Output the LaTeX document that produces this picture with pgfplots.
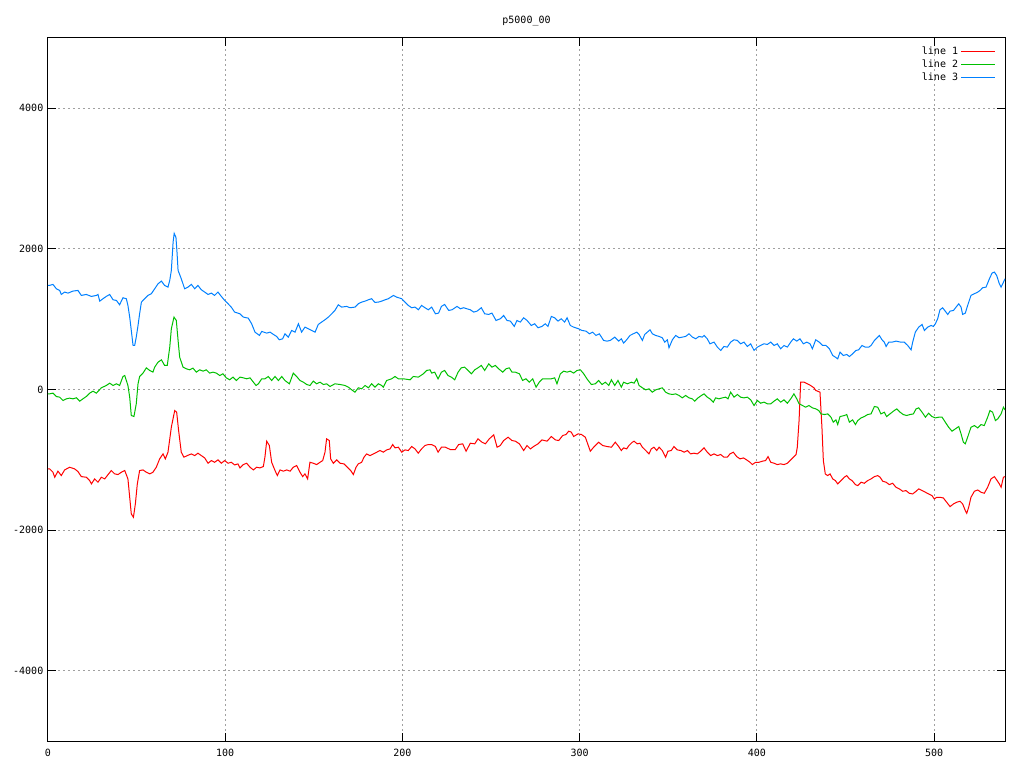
\documentclass[border=0pt]{standalone}
\usepackage{pgfplots}
\pgfplotsset{compat=1.18}
\usepackage{fontspec}
\setmainfont{DejaVu Sans Mono}
\definecolor{gpred}{RGB}{255,0,0}
\definecolor{gpgreen}{RGB}{0,192,0}
\definecolor{gpblue}{RGB}{0,128,255}
\definecolor{gpgrid}{RGB}{160,160,160}
\begin{document}
\begin{tikzpicture}
\useasboundingbox (-36pt,-20.25pt) rectangle (732pt,555.75pt);
\begin{axis}[
  at={(0,0)}, anchor=south west,
  scale only axis, width=717.75pt, height=527.25pt,
  xmin=0, xmax=540, ymin=-5000, ymax=5000,
  xtick={0,100,...,500}, ytick={-4000,-2000,0,2000,4000},
  scaled x ticks=false, scaled y ticks=false,
  /pgf/number format/1000 sep={},
  /pgf/number format/assume math mode=true,
  tick label style={font=\fontsize{7.5}{9}\selectfont},
  xticklabel style={yshift=-2.25pt},
  major tick length=6pt,
  tick style={black, line width=0.75pt},
  axis line style={black, line width=0.75pt},
  grid=major,
  major grid style={gpgrid, dash pattern=on 1.5pt off 2.25pt, line width=0.75pt},
  title={p5000\_00},
  title style={font=\fontsize{7.5}{9}\selectfont, at={(axis description cs:0.5,1)}, anchor=center, yshift=6.75pt},
  legend plot pos=right,
  legend cell align=right,
  legend style={draw=none, fill=none, at={(axis cs:535.3,4940)}, anchor=north east,
    font=\fontsize{7.5}{9}\selectfont, row sep=-1.5pt, inner sep=1pt},
  legend image code/.code={\draw[#1] (0pt,0pt) -- (25pt,0pt);},
  every axis plot/.append style={line width=0.75pt},
]
\addplot[gpred] coordinates {
(0,-1129) (0.9,-1129) (2.8,-1177) (3.8,-1248) (5.6,-1162) (7.5,-1224) (9.4,-1144) (12.2,-1106) (15.0,-1129) (16.9,-1167) (18.8,-1239) (21.6,-1248) (23.5,-1295) (24.5,-1343) (26.3,-1272) (28.2,-1319) (30.1,-1248) (32.0,-1272) (33.9,-1210) (35.7,-1153) (37.6,-1200) (39.5,-1210) (41.4,-1177) (43.3,-1153) (45.1,-1272) (46.1,-1533) (47.0,-1770) (48.2,-1817) (49.3,-1627) (50.4,-1343) (51.7,-1153) (53.6,-1144) (55.5,-1177) (57.4,-1200) (59.2,-1177) (61.1,-1106) (63.0,-987) (64.9,-916) (66.2,-987) (67.7,-892) (69.6,-536) (71.5,-299) (72.6,-323) (73.7,-584) (75.2,-892) (76.7,-963) (78.6,-940) (80.9,-916) (82.8,-940) (84.6,-906) (86.5,-940) (88.4,-973) (90.3,-1049) (92.2,-1011) (94.0,-1035) (95.9,-1001) (97.8,-1049) (99.7,-1011) (101.6,-1049) (103.4,-1035) (105.3,-1073) (107.2,-1058)
(108.3,-1115) (110.2,-1068) (112.1,-1049) (114.0,-1106) (115.9,-1144) (117.7,-1106) (119.6,-1115) (121.5,-1096) (122.4,-963) (123.4,-735) (124.9,-797) (126.2,-1035) (128.1,-1153) (129.4,-1224) (130.9,-1144) (132.8,-1162) (134.7,-1144) (136.6,-1162) (138.4,-1106) (140.3,-1082) (142.2,-1177) (143.7,-1239) (145.0,-1200) (146.5,-1272) (147.8,-1035) (149.7,-1049) (151.6,-1068) (153.5,-1035) (155.0,-1011) (156.3,-892) (157.2,-702) (158.7,-726) (159.5,-987) (161.0,-1049) (162.9,-1001) (164.8,-1049) (167.0,-1058) (168.9,-1106) (170.8,-1153) (172.3,-1210) (173.8,-1106) (175.1,-1058) (177.0,-1035) (178.3,-963) (179.8,-916) (181.7,-940) (183.6,-916) (185.5,-892) (187.3,-868) (189.2,-892) (191.1,-859) (193.0,-845) (194.5,-783) (195.8,-830) (197.7,-821) (199.6,-892) (201.4,-859) (203.3,-868) (205.2,-811) (207.1,-845) (208.9,-906) (210.8,-845) (212.7,-797) (214.6,-783) (216.5,-783)
(218.6,-811) (220.1,-892) (222.0,-821) (224.2,-821) (227.0,-854) (229.8,-854) (231.7,-783) (234.0,-773) (235.9,-878) (238.3,-764) (240.8,-773) (242.6,-702) (244.9,-750) (246.8,-773) (249.0,-702) (251.5,-645) (253.4,-821) (255.2,-797) (257.1,-726) (259.6,-679) (261.8,-726) (263.7,-735) (266.0,-773) (268.4,-868) (270.3,-797) (272.2,-845) (274.0,-811) (276.5,-773) (278.7,-717) (281.6,-735) (284.0,-669) (286.3,-717) (288.2,-726) (290.4,-655) (292.3,-640) (293.8,-593) (295.3,-607) (296.6,-669) (299.1,-631) (301.0,-640) (303.2,-679) (306.0,-878) (307.9,-821) (310.7,-750) (313.0,-797) (315.4,-811) (317.9,-821) (320.1,-750) (322.0,-811) (323.5,-868) (324.8,-830)
(326.5,-845) (327.8,-797) (329.7,-750) (330.7,-736) (332.5,-773) (334.0,-764) (335.4,-821) (337.3,-868) (339.1,-916) (340.4,-845) (341.9,-821) (343.5,-868) (344.8,-821) (346.6,-868) (348.5,-963) (349.8,-878) (351.7,-868) (353.2,-811) (355.1,-859) (357.0,-868) (358.9,-892) (360.8,-868) (362.6,-916) (364.5,-906) (366.4,-916) (368.3,-878) (370.2,-830) (372.0,-892) (373.9,-940) (375.8,-916) (377.7,-940) (379.6,-925) (381.4,-963) (383.3,-963) (384.8,-916) (386.7,-892) (388.6,-954) (390.5,-987) (392.4,-973) (394.2,-1001) (396.1,-1035) (397.4,-1068) (399.3,-1035) (401.2,-1035) (403.1,-1020) (404.9,-1011) (406.3,-954) (407.8,-1035) (409.7,-1049) (411.5,-1068) (413.4,-1058) (415.3,-1068) (417.2,-1049) (419.1,-1001) (420.6,-963) (422.1,-925) (422.8,-821) (423.8,-441) (424.7,104) (426.6,104) (428.5,81) (430.3,57) (432.2,24) (433.2,-14)
(434.3,-24) (435.6,-38) (436.7,-537) (437.5,-1011) (438.6,-1201) (439.9,-1225) (441.3,-1201) (442.8,-1272) (444.3,-1296) (445.6,-1343) (447.5,-1296) (449.3,-1248) (450.7,-1225) (452.2,-1272) (453.7,-1296) (455.6,-1353) (456.9,-1367) (458.8,-1319) (460.6,-1334) (462.5,-1296) (464.4,-1272) (466.3,-1239) (468.2,-1225) (469.5,-1248) (471.0,-1305) (472.9,-1319) (474.7,-1353) (476.6,-1334) (478.5,-1391) (480.4,-1414) (482.3,-1448) (484.1,-1438) (486.0,-1476) (487.9,-1486) (489.8,-1448) (491.3,-1414) (493.2,-1438) (495.1,-1462) (496.9,-1486) (498.8,-1509) (500.1,-1557) (501.5,-1533) (503.3,-1533) (505.2,-1543) (507.1,-1604) (509.0,-1666) (510.9,-1628) (512.7,-1604) (514.6,-1590) (516.1,-1628) (517.6,-1723) (518.4,-1761) (519.5,-1675) (520.8,-1533) (522.7,-1448) (524.6,-1429) (526.5,-1462) (528.3,-1476) (530.2,-1391) (532.1,-1272) (534.0,-1239) (535.3,-1286) (536.8,-1343) (537.8,-1391) (539.1,-1248) (540,-1239)
};
\addlegendentry{line 1}
\addplot[gpgreen] coordinates {
(0,-62) (0.9,-62) (2.8,-52) (4.7,-100) (6.6,-109) (8.5,-157) (10.3,-133) (12.2,-123) (14.1,-133) (16.0,-118) (17.9,-166) (19.7,-133) (21.6,-100) (23.5,-52) (25.4,-24) (27.3,-52) (30.1,24) (32.9,57) (34.8,90) (36.7,57) (38.6,81) (40.4,57) (42.3,185) (43.3,199) (45.1,57) (46.1,-109) (47.0,-370) (48.5,-384) (49.8,-204) (50.8,81) (51.7,185) (53.6,233) (55.5,308) (57.4,270) (59.2,247) (60.2,318) (62.1,389) (64.0,422) (65.8,342) (67.3,342) (68.7,603) (69.6,864) (71.1,1030) (72.4,982) (73.4,698) (74.3,460) (76.2,318) (78.1,294) (79.9,280) (81.8,304) (83.7,247) (85.6,280) (87.5,261) (89.3,280) (91.2,233) (93.1,247) (95.0,233) (96.9,199) (98.7,223) (100.6,166) (102.5,138) (104.4,176) (106.3,128)
(108.3,176) (110.2,166) (112.1,152) (114.0,166) (115.9,104) (117.4,57) (118.7,81) (120.6,152) (122.4,152) (124.3,185) (126.2,128) (128.1,185) (130.0,128) (131.9,185) (133.7,128) (136.2,81) (138.4,233) (140.3,185) (142.2,128) (144.1,104) (146.0,71) (147.8,57) (149.7,119) (151.6,81) (153.5,104) (155.4,71) (157.2,81) (159.1,43) (161.9,81) (164.8,71) (167.6,57) (169.5,33) (171.4,-5) (173.2,-38) (175.1,24) (177.0,10) (178.9,57) (180.8,24) (182.6,81) (184.5,33) (186.4,81) (188.3,57) (189.2,33) (191.1,128) (193.9,152) (195.8,185) (197.7,152) (200.5,152) (204.3,138) (206.1,185) (209.0,176) (211.8,223) (213.7,271) (215.6,280) (216.5,233)
(218.2,247) (220.1,152) (222.0,247) (223.8,271) (225.7,199) (227.6,176) (229.5,138) (231.4,247) (233.2,308) (235.1,318) (237.0,271) (238.9,223) (240.8,280) (242.6,308) (244.5,342) (246.4,271) (248.7,365) (250.5,318) (252.4,342) (254.3,294) (256.6,247) (258.4,294) (260.3,308) (261.8,247) (263.7,247) (266.0,223) (267.8,128) (269.7,152) (271.6,104) (273.5,152) (275.4,33) (277.2,104) (279.1,152) (281.6,152) (284.0,152) (285.9,166) (287.2,81) (289.1,223) (291.0,261) (292.9,247) (294.7,261) (296.6,233) (298.5,271) (300.4,280) (302.3,223) (304.1,152) (306.6,71) (308.8,81) (310.7,128) (312.6,71) (314.5,104) (316.4,57) (317.9,138) (319.8,57) (321.6,128) (323.5,33) (324.8,104)
(326.9,81) (329.2,104) (330.7,90) (332.2,152) (333.5,57) (335.4,24) (337.3,-5) (339.1,10) (341.0,-38) (342.9,-5) (344.8,10) (346.6,24) (348.5,-38) (350.4,-62) (352.3,-71) (354.2,-62) (356.1,-85) (357.9,-119) (359.8,-85) (361.7,-119) (363.6,-133) (364.9,-166) (366.8,-119) (368.7,-85) (370.2,-62) (372.0,-109) (373.5,-133) (375.4,-180) (376.7,-119) (378.6,-133) (380.5,-119) (382.4,-109) (383.7,-133) (385.2,-38) (387.1,-109) (389.0,-71) (390.8,-109) (392.7,-119) (394.6,-109) (396.5,-147) (398.4,-228) (400.3,-156) (402.1,-195) (404.0,-180) (405.9,-204) (407.8,-204) (409.7,-166) (411.5,-133) (413.4,-180) (415.3,-147) (417.2,-195) (419.1,-133) (420.9,-62) (422.5,-133) (423.8,-204) (425.7,-228) (427.5,-251) (429.4,-228) (431.3,-261) (433.2,-275)
(434.9,-299) (436.2,-347) (438.1,-356) (440.0,-347) (441.8,-394) (443.1,-465) (444.6,-432) (445.6,-499) (446.9,-385) (449.4,-370) (450.7,-356) (452.2,-465) (454.0,-432) (455.6,-499) (456.9,-442) (458.8,-404) (460.6,-385) (462.5,-356) (464.4,-347) (466.3,-242) (468.2,-252) (470.0,-347) (471.9,-323) (473.2,-385) (475.1,-347) (477.0,-309) (478.9,-276) (480.8,-323) (482.6,-356) (484.5,-370) (486.4,-356) (488.3,-347) (489.8,-276) (491.3,-261) (493.2,-323) (495.1,-394) (496.9,-337) (498.8,-385) (500.7,-404) (502.6,-394) (504.5,-394) (506.3,-465) (508.2,-537) (510.1,-593) (512.0,-560) (513.9,-527) (515.2,-631) (516.5,-750) (517.6,-773) (518.9,-679) (520.8,-537) (522.7,-513) (524.6,-546) (526.5,-499) (528.3,-513) (530.2,-394) (531.5,-299) (533.0,-323) (534.6,-442) (535.9,-418) (537.8,-347) (539.1,-252) (540,-290)
};
\addlegendentry{line 2}
\addplot[gpblue] coordinates {
(0,1481) (0.9,1481) (2.8,1495) (4.7,1433) (6.6,1409) (7.5,1352) (9.4,1386) (11.3,1371) (14.1,1400) (16.9,1409) (18.8,1338) (21.6,1352) (24.5,1324) (27.3,1338) (28.2,1352) (29.2,1257) (31.0,1291) (32.9,1324) (34.8,1352) (36.7,1276) (38.6,1267) (40.4,1205) (42.3,1305) (44.2,1291) (45.1,1196) (46.1,1030) (47.0,840) (48.0,626) (48.9,626) (49.8,745) (50.8,911) (51.7,1077) (52.7,1243) (54.5,1291) (56.4,1338) (58.3,1362) (60.2,1433) (62.1,1504) (64.0,1542) (65.8,1480) (67.7,1457) (68.7,1552) (69.6,1694) (70.6,2100) (71.2,2221) (72.2,2164) (72.8,1950) (73.4,1694) (75.2,1575) (77.1,1433) (79.0,1457) (80.9,1495) (82.8,1433) (84.6,1480) (86.5,1419) (88.4,1386) (90.3,1352) (92.2,1371) (94.0,1338) (95.9,1386) (97.8,1324) (99.7,1267) (101.6,1220) (103.4,1172) (105.3,1101)
(108.3,1077) (110.2,1030) (113.0,1015) (114.9,935) (116.8,816) (119.3,769) (120.6,826) (123.4,802) (125.3,816) (127.2,783) (129.0,755) (130.5,707) (132.4,721) (133.7,792) (135.6,745) (137.5,840) (139.4,816) (141.3,935) (143.1,816) (145.0,887) (146.9,864) (148.8,840) (150.7,816) (152.5,925) (154.4,959) (156.3,992) (158.2,1030) (160.1,1077) (161.9,1125) (163.8,1205) (165.7,1172) (168.5,1182) (170.4,1163) (173.2,1172) (175.1,1220) (177.0,1243) (178.9,1257) (180.8,1276) (182.6,1291) (184.5,1239) (186.4,1243) (188.3,1257) (190.2,1276) (192.0,1291) (194.9,1338) (196.7,1314) (199.6,1291) (201.4,1243) (203.3,1196) (205.2,1163) (207.1,1172) (209.0,1134) (210.8,1196) (212.7,1163) (214.6,1134) (216.5,1172)
(218.6,1077) (220.4,1087) (222.0,1182) (223.8,1210) (226.1,1125) (228.0,1134) (230.8,1182) (232.7,1148) (234.5,1163) (236.4,1148) (238.3,1134) (240.2,1101) (242.1,1115) (244.5,1163) (246.4,1077) (248.7,1068) (250.5,1087) (252.8,982) (255.2,1006) (257.1,1053) (259.0,982) (260.9,973) (263.1,897) (264.6,982) (266.5,959) (268.4,1020) (270.3,982) (272.7,911) (274.6,935) (276.5,878) (278.7,897) (280.6,935) (282.1,897) (284.0,1039) (285.9,1020) (287.8,973) (289.6,1006) (291.5,959) (292.9,1020) (294.7,911) (296.6,887) (299.4,864) (301.3,840) (303.6,830) (305.5,792) (307.3,816) (309.2,769) (311.1,792) (313.5,698) (315.4,688) (317.3,698) (319.8,745) (322.0,688) (323.5,721) (324.8,660)
(326.5,707) (328.4,769) (330.3,793) (332.2,816) (333.5,783) (335.4,698) (336.7,783) (338.2,816) (339.7,849) (341.0,793) (342.9,769) (344.8,755) (346.6,736) (348.0,674) (349.5,707) (350.4,593) (352.3,707) (354.2,769) (356.1,736) (357.9,745) (359.8,755) (361.7,793) (363.6,745) (365.5,721) (367.3,755) (369.2,745) (370.2,769) (372.0,721) (373.5,650) (375.8,674) (377.7,603) (379.6,555) (381.4,612) (383.3,603) (385.2,674) (387.1,707) (389.0,698) (390.8,650) (392.7,674) (394.6,612) (396.5,650) (398.4,555) (400.3,603) (402.1,626) (404.0,650) (405.9,641) (407.8,674) (409.7,626) (411.5,650) (413.4,579) (415.3,626) (417.2,603) (419.1,674) (420.6,721) (422.5,688) (424.3,721) (426.2,650) (428.1,674) (430.0,650) (431.3,579) (433.2,707)
(435.2,673) (437.1,626) (439.0,626) (440.9,579) (442.8,484) (444.3,460) (445.6,436) (446.9,531) (448.8,484) (450.7,498) (452.2,469) (454.0,507) (455.9,555) (457.4,564) (459.3,626) (461.2,602) (463.1,602) (464.4,626) (466.3,697) (468.2,745) (469.1,768) (470.6,707) (471.9,673) (472.9,612) (474.4,673) (476.2,673) (478.5,688) (481.3,673) (483.2,673) (485.1,626) (487.0,564) (487.9,673) (489.4,816) (491.3,887) (493.2,925) (494.5,840) (496.4,887) (498.3,911) (499.6,897) (500.7,934) (502.0,1006) (503.3,1134) (504.8,1162) (506.7,1101) (507.7,1067) (509.0,1115) (510.9,1124) (512.4,1172) (513.9,1219) (515.2,1172) (516.1,1067) (517.6,1086) (518.9,1195) (520.8,1338) (522.7,1362) (524.6,1385) (525.9,1409) (527.4,1447) (529.3,1456) (531.2,1575) (532.7,1656) (534.0,1670) (535.3,1622) (536.8,1504) (537.8,1456) (539.6,1551) (540,1575)
};
\addlegendentry{line 3}
\end{axis}
\end{tikzpicture}
\end{document}
